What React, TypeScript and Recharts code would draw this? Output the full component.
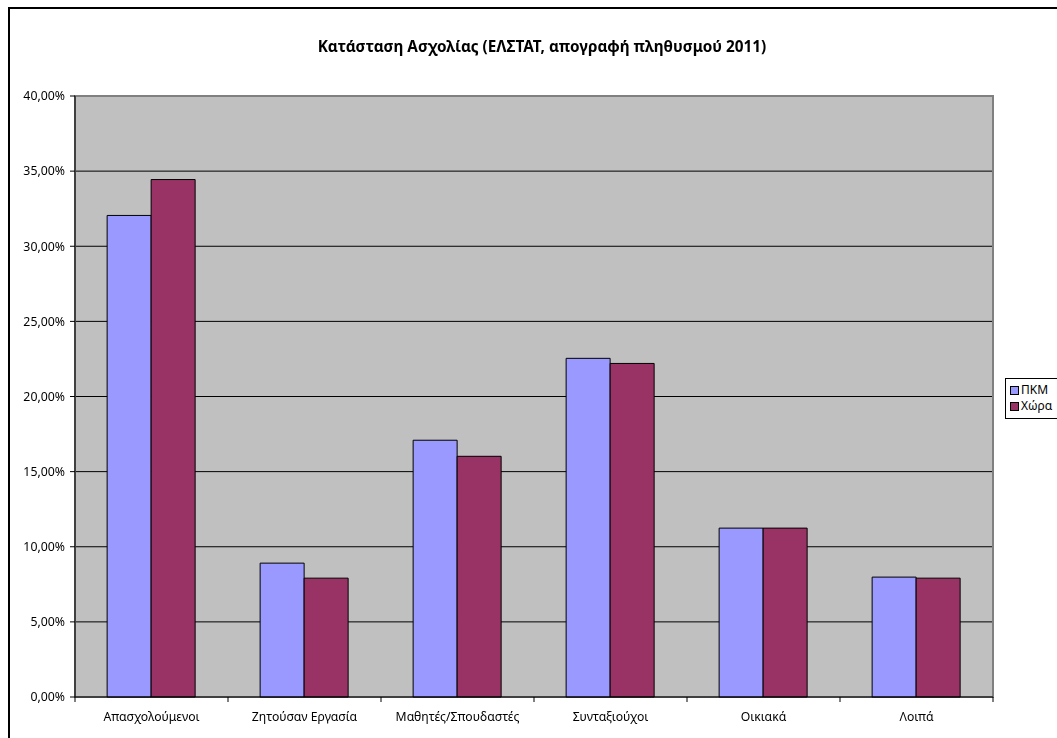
import React from 'react';
import {
  BarChart,
  Bar,
  XAxis,
  YAxis,
  CartesianGrid,
  Legend,
  ReferenceArea,
} from 'recharts';

const categories = [
  'Απασχολούμενοι',
  'Ζητούσαν Εργασία',
  'Μαθητές/Σπουδαστές',
  'Συνταξιούχοι',
  'Οικιακά',
  'Λοιπά',
];
const pkm = [32.05, 8.91, 17.09, 22.54, 11.24, 7.98];
const xora = [34.44, 7.91, 16.02, 22.2, 11.24, 7.91];
const yTicks = [0, 5, 10, 15, 20, 25, 30, 35, 40];

const data = categories.map((name, i) => ({ name, pkm: pkm[i], xora: xora[i] }));

const FONT = '"Noto Sans", sans-serif';
const W = 1057;
const H = 738;
const MARGIN = { top: 96, right: 64, bottom: 11, left: 15 };
const BAND = (W - MARGIN.left - 60 - MARGIN.right) / categories.length;

const pct = (v: number) => `${v.toFixed(2).replace('.', ',')}%`;

// category label plus tick marks on the band edges
const CategoryTick = (props: any) => {
  const { x, y, payload, index } = props;
  const left = x - BAND / 2;
  return (
    <g>
      <line x1={left} x2={left} y1={y - 8} y2={y - 3} stroke="#000" />
      {index === categories.length - 1 && (
        <line x1={left + BAND} x2={left + BAND} y1={y - 8} y2={y - 3} stroke="#000" />
      )}
      <text x={x} y={y + 16} textAnchor="middle" fontSize={12.2} fontFamily={FONT} fill="#000">
        {payload.value}
      </text>
    </g>
  );
};

const LegendBox = () => (
  <div
    style={{
      width: 90,
      boxSizing: 'border-box',
      border: '1px solid #000',
      background: '#fff',
      padding: '3px 4px 4px 4px',
      fontFamily: FONT,
      fontSize: 12,
      lineHeight: '16px',
      whiteSpace: 'nowrap',
    }}
  >
    {[
      { label: 'ΠΚΜ', color: '#9999FF' },
      { label: 'Χώρα', color: '#993366' },
    ].map((it) => (
      <div key={it.label} style={{ display: 'flex', alignItems: 'center' }}>
        <span
          style={{
            display: 'inline-block',
            width: 7,
            height: 7,
            background: it.color,
            border: '1px solid #000',
            marginRight: 2,
          }}
        />
        {it.label}
      </div>
    ))}
  </div>
);

export default function App() {
  return (
    <div style={{ position: 'fixed', left: 0, top: 0, width: W, height: H, overflow: 'hidden' }}>
      <div
        style={{
          position: 'absolute',
          left: 8,
          top: 7,
          width: 1200,
          height: 900,
          border: '2px solid #000',
          boxSizing: 'border-box',
        }}
      />
      <div style={{ position: 'absolute', left: 0, top: 0 }}>
        <BarChart
          width={W}
          height={H}
          data={data}
          margin={MARGIN}
          barCategoryGap="21%"
          barGap={0}
        >
          <CartesianGrid vertical={false} stroke="#000" fill="#C0C0C0" />
          <ReferenceArea y1={0} y2={40} fill="none" stroke="#808080" strokeWidth={2} />
          <XAxis
            dataKey="name"
            interval={0}
            height={30}
            stroke="#000"
            tickLine={false}
            tick={<CategoryTick />}
          />
          <YAxis
            domain={[0, 40]}
            ticks={yTicks}
            width={60}
            stroke="#000"
            tickSize={5}
            tickMargin={5}
            tickFormatter={pct}
            tick={{ fontSize: 12.3, fontFamily: FONT, fill: '#000' }}
          />
          <Legend
            layout="vertical"
            align="center"
            verticalAlign="middle"
            wrapperStyle={{ left: 1005, top: 378, width: 90 }}
            content={<LegendBox />}
          />
          <Bar dataKey="pkm" name="ΠΚΜ" fill="#9999FF" stroke="#000" isAnimationActive={false} />
          <Bar dataKey="xora" name="Χώρα" fill="#993366" stroke="#000" isAnimationActive={false} />
        </BarChart>
      </div>
      <div
        style={{
          position: 'absolute',
          left: 0,
          top: 36,
          width: 1084,
          textAlign: 'center',
          fontFamily: FONT,
          fontWeight: 'bold',
          fontSize: 15.3,
        }}
      >
        Κατάσταση Ασχολίας (ΕΛΣΤΑΤ, απογραφή πληθυσμού 2011)
      </div>
    </div>
  );
}
